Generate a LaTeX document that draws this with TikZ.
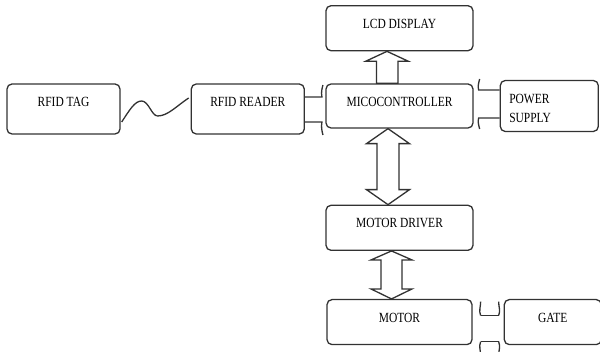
\documentclass[tikz,border=0pt]{standalone}
\usepackage{fontspec}
\newfontfamily\lbl[FakeStretch=0.82]{Liberation Serif}
\definecolor{LineGray}{RGB}{50,50,50}
\usetikzlibrary{positioning,calc}

\begin{document}
\begin{tikzpicture}[
    x=1pt, y=-1pt,
    box/.style={draw=LineGray, line width=1.3pt, rounded corners=5pt,
                font={\lbl\fontsize{14}{19}\selectfont}, text=black,
                inner xsep=0pt, inner ysep=0pt, text height=22.6pt},
    blk/.style={draw=LineGray, line width=1.3pt, fill=white, line join=miter},
    wire/.style={draw=LineGray, line width=1.3pt}
  ]
    \useasboundingbox (0,0) rectangle (600,352);

    \node[box, minimum width=113pt, text depth=27.4pt] (tag) at (63.5,109) {RFID TAG};
    \node[box, minimum width=113pt, text depth=27.4pt, right=70pt of tag] (reader) {RFID READER};
    \node[box, minimum width=147pt, text depth=21.4pt] (micro) at (399.5,106) {MICOCONTROLLER};
    \node[box, minimum width=147pt, text depth=22.4pt, above=32pt of micro] (lcd) {LCD DISPLAY};
    \node[box, minimum width=147pt, text depth=22.4pt, below=76pt of micro] (driver) {MOTOR DRIVER};
    \node[box, minimum width=145pt, text depth=22.4pt, below=48pt of driver] (motor) {MOTOR};
    \node[box, text width=80pt, inner xsep=9pt, align=left, text depth=28.4pt,
          right=26pt of micro] (power) {POWER\\SUPPLY};
    \node[box, minimum width=97pt, text depth=22.4pt, right=31pt of motor] (gate) {GATE};

    % wireless link
    \draw[wire] ($(tag.east)+(1,13)$) .. controls +(8,-12) and +(-7,0) .. ++(20,-21)
                .. controls +(7,0) and +(-6,0) .. ++(16,15)
                .. controls +(10,0) and +(-12,8) .. ($(reader.west)+(-2,-11)$);

    % reader -> microcontroller
    \draw[wire] ($(reader.east)+(0,-12)$) -- ++(17,0) .. controls +(-1,-5) and +(-1,4) .. ++(1,-12);
    \draw[wire] ($(reader.east)+(0,13)$) -- ++(17,0) .. controls +(-1,5) and +(-1,-4) .. ++(1,13);

    % power supply -> microcontroller
    \draw[wire] ($(power.west)+(0,-16)$) -- ++(-21,0) .. controls +(-1,-4) and +(-1,4) .. ++(1,-11);
    \draw[wire] ($(power.west)+(0,12)$) -- ++(-21,0) .. controls +(-1,4) and +(-1,-4) .. ++(1,11);

    % microcontroller -> lcd
    \draw[blk] ($(micro.north)+(-23,0)$) -- ++(0,-22) -- ++(-11,0) -- ($(lcd.south)+(-12.5,0)$)
               -- ++(21.5,10) -- ++(-10.5,0) -- ++(0,22) -- cycle;

    % microcontroller <-> motor driver
    \draw[blk] ($(micro.south)+(-11.5,0)$) -- ++(21.5,15) -- ++(-10.5,0) -- ++(0,46) -- ++(10.5,0)
               -- ($(driver.north)+(-11.5,0)$) -- ++(-21.5,-15) -- ++(10.5,0) -- ++(0,-46)
               -- ++(-10.5,0) -- cycle;

    % motor driver <-> motor
    \draw[blk] ($(driver.south)+(-8,0)$) -- ++(20.5,9) -- ++(-10,0) -- ++(0,29) -- ++(10,0)
               -- ($(motor.north)+(-8,0)$) -- ++(-20.5,-10) -- ++(10,0) -- ++(0,-29)
               -- ++(-10,0) -- cycle;

    % motor <-> gate
    \draw[wire] ($(motor.east)+(8,-6.5)$) -- ($(gate.west)+(-5,-6.5)$);
    \draw[wire] ($(motor.east)+(8,19.5)$) -- ($(gate.west)+(-5,19.5)$);
    \draw[wire] ($(motor.east)+(8,-6.5)$) .. controls +(-2,-5) and +(0,5) .. ++(0,-14);
    \draw[wire] ($(motor.east)+(8,19.5)$) .. controls +(-2,5) and +(0,-5) .. ++(0,14);
    \draw[wire] ($(gate.west)+(-5,-6.5)$) .. controls +(2,-5) and +(0,5) .. ++(0,-14);
    \draw[wire] ($(gate.west)+(-5,19.5)$) .. controls +(2,5) and +(0,-5) .. ++(0,14);
\end{tikzpicture}
\end{document}
